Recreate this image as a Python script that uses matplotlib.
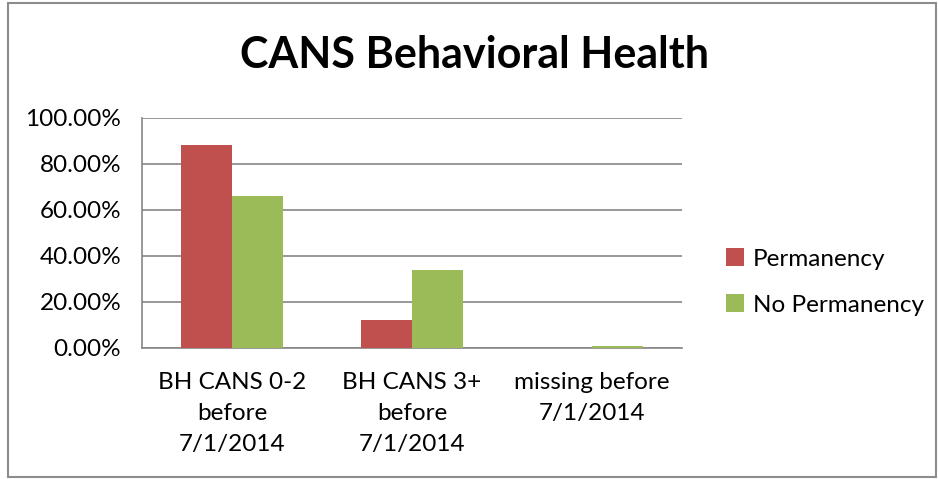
import numpy as np
import matplotlib.pyplot as plt
from matplotlib.patches import Rectangle

categories = ['BH CANS 0-2\nbefore\n7/1/2014', 'BH CANS 3+\nbefore\n7/1/2014', 'missing before\n7/1/2014']
permanency = [0.883, 0.122, 0.0]
no_permanency = [0.661, 0.339, 0.007]
y_ticks = [0.0, 0.2, 0.4, 0.6, 0.8, 1.0]

plt.rcParams['font.family'] = ['Lato', 'DejaVu Sans']

fig = plt.figure(figsize=(9.38, 4.79), dpi=100)
ax = fig.add_axes([142/938, 1 - 348/479, 540/938, 230/479])

x = np.arange(len(categories))
w = 1 / 3.5
ax.bar(x - w/2, permanency, width=w, color='#C0504D', label='Permanency', zorder=3)
ax.bar(x + w/2, no_permanency, width=w, color='#9BBB59', label='No Permanency', zorder=3)

ax.set_xlim(-0.5, 2.5)
ax.set_ylim(0, 1.0)
ax.set_yticks(y_ticks)
ax.set_yticklabels(['%.2f%%' % (v * 100) for v in y_ticks], fontsize=17.5)
ax.set_xticks(x)
ax.set_xticklabels(categories, fontsize=17.5, linespacing=1.6, va='top')
ax.tick_params(axis='x', length=0, pad=17)
ax.tick_params(axis='y', length=0, pad=15)
ax.grid(axis='y', color='#868686', linewidth=1.2, zorder=0)
for s in ['top', 'right']:
    ax.spines[s].set_visible(False)
for s in ['left', 'bottom']:
    ax.spines[s].set_color('#868686')
    ax.spines[s].set_linewidth(1.2)
    ax.spines[s].set_zorder(2)

fig.text(474/938, 1 - 55/479, 'CANS Behavioral Health', ha='center', va='center',
         fontsize=31, fontweight='bold')

ax.legend(loc='center left', bbox_to_anchor=(704/938, 1 - 282/479),
          bbox_transform=fig.transFigure, frameon=False, fontsize=17.5,
          handlelength=0.75, handleheight=0.75, labelspacing=1.0, handletextpad=0.35)

fig.patches.append(Rectangle((8/938, 2/479), 928/938, 474/479, transform=fig.transFigure,
                             fill=False, edgecolor='#8C8C8C', linewidth=1.5))

fig.savefig('out.png', dpi=100)
